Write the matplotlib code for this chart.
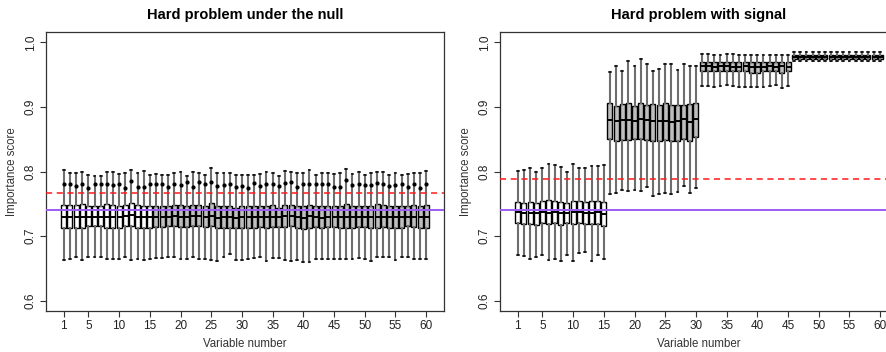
import numpy as np
import matplotlib
matplotlib.use("Agg")
import matplotlib.pyplot as plt

plt.rcParams['font.family'] = ['Liberation Sans', 'DejaVu Sans']

# ---- left panel: hard problem under the null (60 variables) ----
null_top = [0.802, 0.798, 0.797, 0.800, 0.794, 0.793, 0.793, 0.800, 0.799, 0.796,
            0.798, 0.803, 0.797, 0.801, 0.794, 0.796, 0.794, 0.794, 0.798, 0.799,
            0.793, 0.799, 0.798, 0.794, 0.805, 0.798, 0.798, 0.797, 0.794, 0.794,
            0.794, 0.794, 0.796, 0.799, 0.798, 0.793, 0.801, 0.799, 0.798, 0.798,
            0.802, 0.794, 0.798, 0.798, 0.796, 0.797, 0.804, 0.796, 0.799, 0.794,
            0.798, 0.800, 0.800, 0.794, 0.797, 0.794, 0.796, 0.798, 0.797, 0.801]
null_q3 = [0.748, 0.748, 0.748, 0.749, 0.747, 0.747, 0.746, 0.750, 0.748, 0.746,
           0.748, 0.752, 0.748, 0.747, 0.746, 0.747, 0.747, 0.747, 0.748, 0.748,
           0.746, 0.748, 0.748, 0.747, 0.751, 0.747, 0.747, 0.747, 0.744, 0.746,
           0.746, 0.746, 0.747, 0.747, 0.748, 0.744, 0.748, 0.748, 0.747, 0.746,
           0.748, 0.747, 0.746, 0.747, 0.747, 0.747, 0.750, 0.747, 0.747, 0.747,
           0.747, 0.749, 0.748, 0.746, 0.747, 0.746, 0.747, 0.748, 0.746, 0.748]
null_med = [0.729, 0.729, 0.729, 0.729, 0.730, 0.730, 0.729, 0.730, 0.730, 0.729,
            0.731, 0.733, 0.730, 0.730, 0.729, 0.730, 0.730, 0.730, 0.731, 0.730,
            0.729, 0.731, 0.731, 0.730, 0.731, 0.728, 0.729, 0.729, 0.728, 0.729,
            0.729, 0.729, 0.730, 0.729, 0.730, 0.729, 0.731, 0.731, 0.730, 0.728,
            0.731, 0.730, 0.728, 0.730, 0.730, 0.729, 0.730, 0.730, 0.730, 0.730,
            0.729, 0.730, 0.730, 0.729, 0.729, 0.729, 0.730, 0.730, 0.729, 0.729]
null_q1 = [0.712, 0.713, 0.713, 0.712, 0.715, 0.715, 0.715, 0.712, 0.712, 0.712,
           0.715, 0.716, 0.712, 0.712, 0.712, 0.714, 0.714, 0.715, 0.715, 0.714,
           0.714, 0.715, 0.715, 0.714, 0.715, 0.712, 0.713, 0.713, 0.712, 0.713,
           0.713, 0.713, 0.714, 0.712, 0.714, 0.714, 0.714, 0.715, 0.713, 0.711,
           0.713, 0.714, 0.712, 0.714, 0.714, 0.712, 0.713, 0.713, 0.714, 0.714,
           0.712, 0.713, 0.714, 0.713, 0.713, 0.713, 0.715, 0.714, 0.712, 0.712]
null_bot = [0.663, 0.664, 0.667, 0.663, 0.667, 0.668, 0.668, 0.665, 0.665, 0.665,
            0.668, 0.663, 0.664, 0.663, 0.664, 0.666, 0.666, 0.667, 0.667, 0.665,
            0.665, 0.667, 0.665, 0.665, 0.663, 0.662, 0.667, 0.673, 0.663, 0.663,
            0.665, 0.666, 0.667, 0.661, 0.666, 0.666, 0.663, 0.662, 0.663, 0.660,
            0.660, 0.665, 0.665, 0.665, 0.665, 0.665, 0.665, 0.665, 0.666, 0.665,
            0.662, 0.667, 0.667, 0.668, 0.663, 0.667, 0.667, 0.665, 0.665, 0.665]
null_dot = [0.780, 0.781, 0.778, 0.781, 0.775, 0.780, 0.780, 0.781, 0.779, 0.780,
            0.775, 0.786, 0.776, 0.776, 0.780, 0.780, 0.780, 0.776, 0.780, 0.779,
            0.784, 0.776, 0.784, 0.780, 0.784, 0.777, 0.779, 0.780, 0.776, 0.777,
            0.774, 0.782, 0.778, 0.780, 0.780, 0.778, 0.782, 0.783, 0.776, 0.780,
            0.780, 0.780, 0.780, 0.780, 0.776, 0.776, 0.787, 0.779, 0.780, 0.779,
            0.779, 0.782, 0.780, 0.778, 0.779, 0.780, 0.776, 0.780, 0.775, 0.780]
null_red = 0.766
null_purple = 0.740

# ---- right panel: hard problem with signal ----
sig_top = [0.801, 0.802, 0.805, 0.800, 0.805, 0.812, 0.810, 0.807, 0.800, 0.812,
           0.806, 0.805, 0.809, 0.809, 0.810,
           0.954, 0.963, 0.956, 0.971, 0.963, 0.974, 0.966, 0.956, 0.959, 0.966,
           0.967, 0.957, 0.966, 0.964, 0.963,
           0.982, 0.982, 0.981, 0.981, 0.982, 0.982, 0.981, 0.981, 0.981, 0.981,
           0.981, 0.981, 0.980, 0.980, 0.980,
           0.985, 0.985, 0.985, 0.985, 0.985, 0.985, 0.985, 0.985, 0.985, 0.985,
           0.985, 0.985, 0.985, 0.985, 0.985]
sig_q3 = [0.753, 0.752, 0.753, 0.752, 0.755, 0.756, 0.755, 0.753, 0.752, 0.755,
          0.755, 0.753, 0.755, 0.755, 0.753,
          0.906, 0.901, 0.905, 0.906, 0.902, 0.906, 0.903, 0.905, 0.903, 0.906,
          0.903, 0.903, 0.903, 0.905, 0.906,
          0.969, 0.969, 0.969, 0.969, 0.969, 0.969, 0.969, 0.969, 0.969, 0.969,
          0.969, 0.969, 0.969, 0.969, 0.969,
          0.980, 0.980, 0.980, 0.980, 0.980, 0.980, 0.980, 0.980, 0.980, 0.980,
          0.980, 0.980, 0.980, 0.980, 0.980]
sig_med = [0.737, 0.736, 0.736, 0.735, 0.738, 0.735, 0.737, 0.736, 0.736, 0.737,
           0.737, 0.735, 0.735, 0.737, 0.734,
           0.879, 0.878, 0.880, 0.880, 0.878, 0.882, 0.879, 0.878, 0.878, 0.878,
           0.877, 0.878, 0.881, 0.877, 0.881,
           0.963, 0.963, 0.962, 0.963, 0.963, 0.962, 0.962, 0.963, 0.962, 0.962,
           0.962, 0.963, 0.962, 0.963, 0.962,
           0.977, 0.977, 0.977, 0.977, 0.977, 0.977, 0.977, 0.977, 0.977, 0.977,
           0.977, 0.977, 0.977, 0.977, 0.977]
sig_q1 = [0.720, 0.719, 0.719, 0.717, 0.720, 0.719, 0.720, 0.717, 0.720, 0.719,
          0.720, 0.719, 0.719, 0.719, 0.716,
          0.850, 0.847, 0.849, 0.849, 0.850, 0.851, 0.849, 0.848, 0.848, 0.849,
          0.847, 0.848, 0.851, 0.848, 0.853,
          0.955, 0.955, 0.955, 0.955, 0.955, 0.955, 0.955, 0.955, 0.953, 0.953,
          0.955, 0.955, 0.955, 0.953, 0.955,
          0.974, 0.974, 0.974, 0.974, 0.974, 0.974, 0.974, 0.974, 0.974, 0.974,
          0.974, 0.974, 0.974, 0.974, 0.974]
sig_bot = [0.670, 0.669, 0.665, 0.668, 0.671, 0.663, 0.665, 0.661, 0.671, 0.661,
           0.674, 0.675, 0.662, 0.670, 0.664,
           0.765, 0.766, 0.771, 0.770, 0.771, 0.770, 0.776, 0.762, 0.765, 0.766,
           0.765, 0.769, 0.778, 0.766, 0.774,
           0.933, 0.933, 0.931, 0.932, 0.934, 0.932, 0.931, 0.931, 0.931, 0.931,
           0.931, 0.933, 0.934, 0.930, 0.933,
           0.971, 0.971, 0.971, 0.971, 0.971, 0.971, 0.971, 0.971, 0.971, 0.971,
           0.971, 0.971, 0.971, 0.971, 0.971]
sig_red = 0.789
sig_purple = 0.740

n_white = 15
xticks = [1, 5, 10, 15, 20, 25, 30, 35, 40, 45, 50, 55, 60]
PURPLE = "#9b5cf5"
GRAY = "#bebebe"

W, H = 886, 352
fig = plt.figure(figsize=(W / 100, H / 100), dpi=100)
ax1 = fig.add_axes([46 / W, 41 / H, 398 / W, 279 / H])
ax2 = fig.add_axes([500 / W, 41 / H, 398 / W, 279 / H])


def draw(ax, lo, q1, med, q3, hi, title, red, purple, dots=None):
    stats = [dict(whislo=a, q1=b, med=c, q3=d, whishi=e)
             for a, b, c, d, e in zip(lo, q1, med, q3, hi)]
    pos = np.arange(1, len(stats) + 1)
    bp = ax.bxp(stats, positions=pos, widths=0.8, showfliers=False,
                patch_artist=True, capwidths=0.3,
                boxprops=dict(edgecolor='black', linewidth=1.0),
                medianprops=dict(color='black', linewidth=1.4),
                whiskerprops=dict(color='#6e6e6e', linewidth=1.5),
                capprops=dict(color='black', linewidth=1.1))
    for i, b in enumerate(bp['boxes']):
        b.set_facecolor('white' if i < n_white else GRAY)
    if dots is not None:
        ax.plot(pos, dots, 'o', color='black', ms=2.0, zorder=4)
    ax.axhline(purple, color=PURPLE, lw=1.4, zorder=5)
    ax.axhline(red, color='#ff1a1a', lw=1.1, ls=(0, (4, 3)), zorder=5)
    ax.set_xlim(-1.9, 62.9)
    ax.set_ylim(0.584, 1.016)
    ax.set_xticks(xticks)
    ax.set_xticklabels([str(t) for t in xticks])
    ax.set_yticks([0.6, 0.7, 0.8, 0.9, 1.0])
    ax.set_yticklabels(['0.6', '0.7', '0.8', '0.9', '1.0'], rotation=90, va='center')
    ax.tick_params(length=4, width=0.8, labelsize=8.5, pad=2.5, color='#333333',
                   labelcolor='#222222')
    ax.set_xlabel("Variable number", fontsize=8.3, labelpad=4, color='#333333')
    ax.set_ylabel("Importance score", fontsize=8.3, labelpad=5, color='#333333')
    ax.set_title(title, fontsize=10.5, fontweight='bold', pad=9)
    for s in ax.spines.values():
        s.set_linewidth(0.9)
        s.set_color('#333333')


draw(ax1, null_bot, null_q1, null_med, null_q3, null_top,
     "Hard problem under the null", null_red, null_purple, dots=null_dot)
draw(ax2, sig_bot, sig_q1, sig_med, sig_q3, sig_top,
     "Hard problem with signal", sig_red, sig_purple)

fig.savefig("out.png", dpi=100)
